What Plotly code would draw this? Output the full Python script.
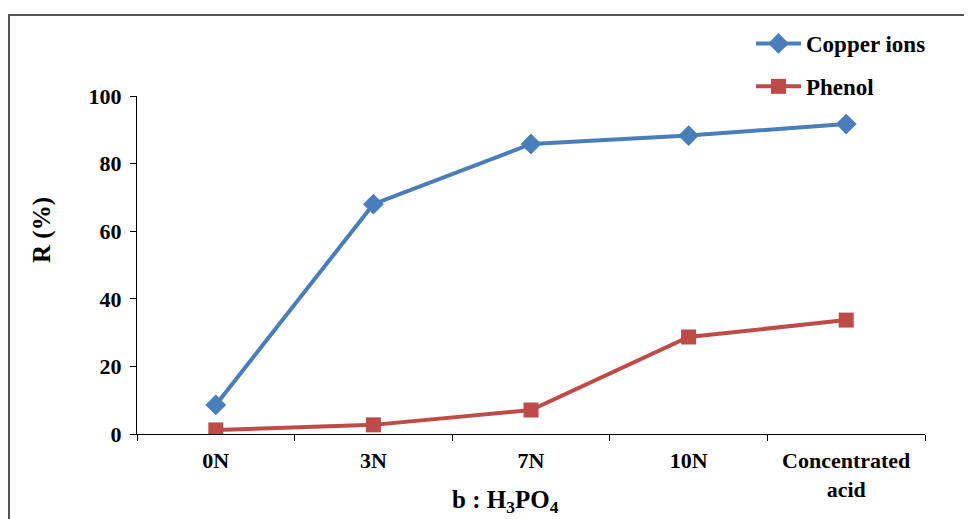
import plotly.graph_objects as go

categories = ["0N", "3N", "7N", "10N", "Concentrated<br>acid"]
copper = [8.6, 68.0, 85.8, 88.3, 91.7]
phenol = [1.2, 2.7, 7.1, 28.7, 33.7]
y_ticks = [0, 20, 40, 60, 80, 100]

FONT = "Liberation Serif"
BLUE = "#4A7EBB"
RED = "#BE4B48"

# page body has an 8px margin, so work in display coordinates minus 8
OFF = 8
W, H = 972 - OFF, 519 - OFF
L, T = 137 - OFF, 96 - OFF
plot_right, plot_bottom = 925 - OFF, 434 - OFF
R, B = W - plot_right, H - plot_bottom
pw, ph = plot_right - L, plot_bottom - T


def px(xd):
    return (xd - OFF - L) / pw


def py(yd):
    return (plot_bottom - (yd - OFF)) / ph


fig = go.Figure()
fig.add_trace(go.Scatter(
    x=categories, y=copper, name="<b>Copper ions</b>", mode="lines+markers",
    line=dict(color=BLUE, width=4),
    marker=dict(symbol="diamond", size=16, color=BLUE),
    legendgroup="a",
))
fig.add_trace(go.Scatter(
    x=categories, y=phenol, name="<b>Phenol</b>", mode="lines+markers",
    line=dict(color=RED, width=4),
    marker=dict(symbol="square", size=15, color=RED),
    legendgroup="b",
))

fig.add_shape(type="rect", xref="paper", yref="paper",
              x0=px(9), x1=px(1000), y0=py(560), y1=py(15),
              line=dict(color="#555555", width=2), fillcolor="rgba(0,0,0,0)")

fig.add_annotation(text="<b>R (%)</b>", xref="paper", yref="paper",
                   x=px(42), y=py(230), textangle=-90, showarrow=False,
                   xanchor="center", yanchor="middle",
                   font=dict(family=FONT, size=25, color="black"))
fig.add_annotation(text="<b>b : H<sub>3</sub>PO<sub>4</sub></b>", xref="paper", yref="paper",
                   x=px(505), y=py(501), showarrow=False,
                   xanchor="center", yanchor="middle",
                   font=dict(family=FONT, size=25, color="black"))

fig.update_layout(
    width=W, height=H,
    margin=dict(l=L, r=R, t=T, b=B, autoexpand=False),
    paper_bgcolor="white", plot_bgcolor="white",
    font=dict(family=FONT, size=22, color="black"),
    showlegend=True,
    legend=dict(x=px(751), y=py(22), xanchor="left", yanchor="top",
                font=dict(family=FONT, size=23, color="black"),
                traceorder="grouped", tracegroupgap=10, itemwidth=45,
                bgcolor="rgba(0,0,0,0)"),
    xaxis=dict(
        type="category", tickson="boundaries", ticks="outside", ticklen=6,
        tickcolor="black", showline=True, linecolor="black", linewidth=1,
        showgrid=False, zeroline=False, ticklabelstandoff=7,
        tickfont=dict(family=FONT, size=22, color="black", weight="bold"),
        range=[-0.5, 4.5],
    ),
    yaxis=dict(
        range=[0, 100], tickvals=y_ticks, ticks="outside", ticklen=6,
        tickcolor="black", showline=True, linecolor="black", linewidth=1,
        showgrid=False, zeroline=False, ticklabelstandoff=4,
        tickfont=dict(family=FONT, size=22, color="black", weight="bold"),
    ),
)

fig.write_html("out.html")
